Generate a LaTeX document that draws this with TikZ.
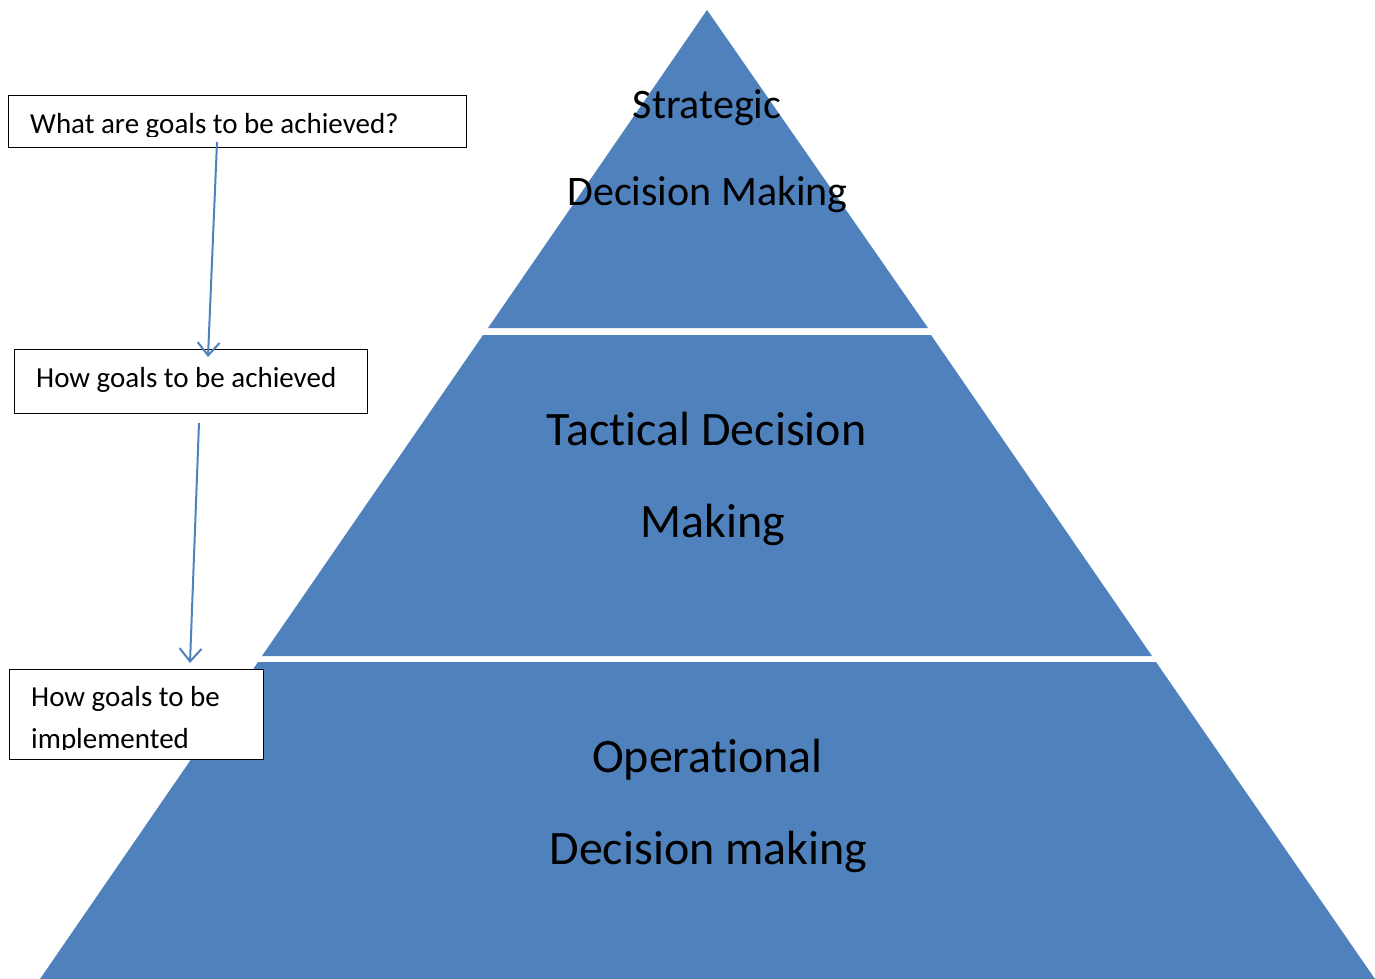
\documentclass[tikz,border=0pt]{standalone}
\usepackage{fontspec}
\setmainfont{Carlito}[Ligatures={NoCommon,NoContextual}]
\usetikzlibrary{arrows.meta}
\definecolor{pyr}{HTML}{4F81BD}
\begin{document}
\begin{tikzpicture}[x=1pt,y=-1pt,
 tier/.style={fill=pyr, draw=none},
 box/.style={draw=black, line width=1.1pt, fill=white, inner sep=0pt, anchor=north west},
 boxtext/.style={font=\fontsize{29}{42}\selectfont, anchor=base west, inner sep=0pt},
 bigtext/.style={font=\fontsize{48}{58}\selectfont, anchor=base, inner sep=0pt},
 toptext/.style={font=\fontsize{42}{50}\selectfont, anchor=base, inner sep=0pt},
 flow/.style={draw=pyr, line width=2pt, -{Straight Barb[length=13pt,width=22pt]}}]
\useasboundingbox (0,0) rectangle (1375,979);
% pyramid tiers
\fill[tier] (707,10) -- (928,328) -- (488,328) -- cycle;
\fill[tier] (483,335) -- (931,335) -- (1152,656) -- (262,656) -- cycle;
\fill[tier] (258,662) -- (1156,662) -- (1375,979) -- (40,979) -- cycle;
% pyramid labels
\node[toptext] (s1) at (707,119) {Strategic};
\node[toptext] (s2) at (707.5,205) {Decision Making};
\node[bigtext] (t1) at (706.5,445) {Tactical Decision};
\node[bigtext] (t2) at (712.5,537) {Making};
\node[bigtext] (o1) at (707.5,772) {Operational};
\node[bigtext] (o2) at (708.5,864) {Decision making};
% boxes
\node[box, minimum width=458pt, minimum height=52pt] (b1) at (8,95) {};
\begin{scope}
\clip (8,95) rectangle (466,136.5);
\node[boxtext] (b1t) at (30,134) {What are goals to be achieved?};
\end{scope}
\node[box, minimum width=353pt, minimum height=64pt] (b2) at (14,349) {};
\node[boxtext] (b2t) at (36,387) {How goals to be achieved};
\node[box, minimum width=254pt, minimum height=90pt] (b3) at (9,669) {};
\begin{scope}
\clip (9,669) rectangle (263,749.5);
\node[boxtext] (b3t) at (31,706) {How goals to be};
\node[boxtext] (b3u) at (31,748) {implemented};
\end{scope}
% connectors
\coordinate (a1s) at (217,142);
\coordinate (a1e) at (208,357);
\coordinate (a2s) at (199,423);
\coordinate (a2e) at (190,663);
\draw[flow] (a1s) -- (a1e);
\draw[flow] (a2s) -- (a2e);
\end{tikzpicture}
\end{document}
